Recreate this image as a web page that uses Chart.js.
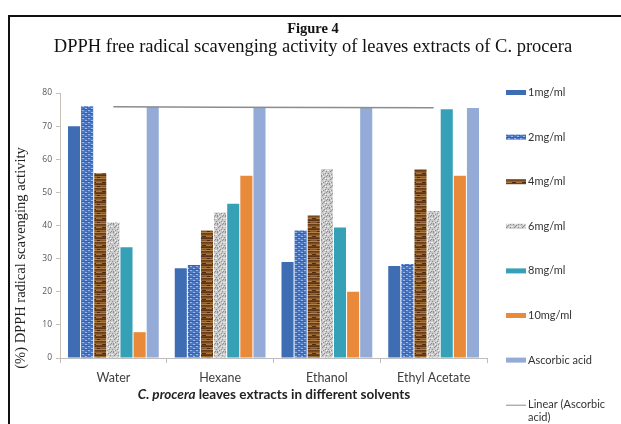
<!DOCTYPE html>
<html>
<head>
<meta charset="utf-8">
<script src="https://cdn.jsdelivr.net/npm/chart.js@4/dist/chart.umd.min.js"></script>
<style>
  html, body { margin: 0; padding: 0; background: #fff; }
  #wrap { position: relative; width: 621px; height: 424px; overflow: hidden; }
  #frame { position: absolute; left: 8px; top: 15px; width: 700px; height: 500px;
           border-left: 2.5px solid #111; border-top: 2px solid #111; box-sizing: border-box; }
  canvas { position: absolute; left: 0; top: 0; }
</style>
</head>
<body>
<div id="wrap">
  <div id="frame"></div>
  <canvas id="c" width="621" height="424"></canvas>
</div>
<script>
// Solvents and extract concentrations
const solvents = ['Water', 'Hexane', 'Ethanol', 'Ethyl Acetate'];
const seriesLabels = ['1mg/ml', '2mg/ml', '4mg/ml', '6mg/ml', '8mg/ml', '10mg/ml', 'Ascorbic acid'];

// % DPPH radical scavenging activity per solvent
const conc1  = [70.0, 27.1, 29.0, 27.8];
const conc2  = [76.0, 28.1, 38.5, 28.4];
const conc4  = [55.8, 38.5, 43.0, 57.0];
const conc6  = [40.9, 43.9, 57.0, 44.4];
const conc8  = [33.4, 46.6, 39.4, 75.1];
const conc10 = [7.8, 55.0, 20.0, 55.0];
const ascorbic = [75.8, 75.8, 75.6, 75.5];

const yTicks = [0, 10, 20, 30, 40, 50, 60, 70, 80];

const figureTitle = 'Figure 4';
const figureSubtitle = 'DPPH free radical scavenging activity of leaves extracts of C. procera';
const yTitle = '(%) DPPH radical scavenging activity';
const xTitle = ['C. procera', ' leaves extracts in different solvents'];

// Least-squares trend line through the ascorbic acid values
function linearFit(vals) {
  const n = vals.length;
  let sx = 0, sy = 0, sxy = 0, sxx = 0;
  vals.forEach((v, i) => { sx += i; sy += v; sxy += i * v; sxx += i * i; });
  const b = (n * sxy - sx * sy) / (n * sxx - sx * sx);
  const a = (sy - b * sx) / n;
  return vals.map((_, i) => a + b * i);
}

// Texture fills
function makePattern(w, h, draw) {
  const c = document.createElement('canvas');
  c.width = w; c.height = h;
  const g = c.getContext('2d');
  draw(g);
  return g.createPattern(c, 'repeat');
}
const bluePattern = makePattern(6, 4, g => {
  g.fillStyle = '#4a78c4'; g.fillRect(0, 0, 6, 4);
  g.fillStyle = '#9fb9e6';
  g.fillRect(1, 0, 2, 1); g.fillRect(4, 2, 2, 1);
  g.fillStyle = '#3462ad';
  g.fillRect(0, 1, 6, 1); g.fillRect(3, 3, 1, 1);
});
const woodPattern = makePattern(10, 9, g => {
  const bands = ['#7a4b22', '#93642f', '#a8773f', '#6e421b', '#5c3414', '#9b6a35', '#84552a', '#b08048', '#683d18'];
  bands.forEach((col, i) => { g.fillStyle = col; g.fillRect(0, i, 10, 1); });
  g.fillStyle = '#4f2c10'; g.fillRect(2, 2, 4, 1); g.fillRect(7, 6, 3, 1);
});
const granitePattern = makePattern(8, 8, g => {
  g.fillStyle = '#c9c9c9'; g.fillRect(0, 0, 8, 8);
  g.fillStyle = '#8e8e8e';
  [[1,0],[4,1],[6,3],[2,3],[0,5],[5,5],[3,6],[7,7],[1,7],[6,0],[3,2]].forEach(p => g.fillRect(p[0], p[1], 1, 1));
  g.fillStyle = '#eeeeee';
  [[3,0],[7,2],[0,2],[4,4],[2,6],[6,6],[5,2]].forEach(p => g.fillRect(p[0], p[1], 1, 1));
});

const fills = ['#3f6db3', bluePattern, woodPattern, granitePattern, '#35a0b6', '#e98a3a', '#94aad7'];
const seriesData = [conc1, conc2, conc4, conc6, conc8, conc10, ascorbic];

const datasets = seriesData.map((d, i) => ({
  type: 'bar',
  label: seriesLabels[i],
  data: d,
  backgroundColor: fills[i],
  borderWidth: 0,
  categoryPercentage: 0.86,
  barPercentage: 0.92,
  order: 2
}));
datasets.push({
  type: 'line',
  label: 'Linear (Ascorbic acid)',
  data: linearFit(ascorbic),
  borderColor: '#8c8c8c',
  borderWidth: 1.5,
  pointRadius: 0,
  fill: false,
  order: 1
});

const serif = '"Liberation Serif", "Times New Roman", serif';
const sans = 'Lato, "Open Sans", sans-serif';

// Titles, rotated y-axis caption and the right-hand legend
const decorations = {
  id: 'decorations',
  afterDraw(chart) {
    const ctx = chart.ctx;
    const area = chart.chartArea;
    ctx.save();
    ctx.fillStyle = '#111';
    ctx.textAlign = 'center';
    ctx.textBaseline = 'alphabetic';
    ctx.font = 'bold 14.5px ' + serif;
    ctx.fillText(figureTitle, 313, 33);
    ctx.font = '18.5px ' + serif;
    ctx.fillText(figureSubtitle, 313, 52);

    ctx.save();
    ctx.translate(21, 258);
    ctx.rotate(-Math.PI / 2);
    ctx.textBaseline = 'middle';
    ctx.fillStyle = '#222';
    ctx.font = '14.5px ' + serif;
    ctx.fillText(yTitle, 0, 0);
    ctx.restore();

    // x-axis caption with the italic genus name
    ctx.textAlign = 'left';
    ctx.textBaseline = 'middle';
    ctx.fillStyle = '#222';
    const f1 = 'italic bold 13.5px ' + sans, f2 = 'bold 13.5px ' + sans;
    ctx.font = f1; const w1 = ctx.measureText(xTitle[0]).width;
    ctx.font = f2; const w2 = ctx.measureText(xTitle[1]).width;
    const cx = (area.left + area.right) / 2 + 0.5;
    let x = cx - (w1 + w2) / 2;
    ctx.font = f1; ctx.fillText(xTitle[0], x, 395);
    ctx.font = f2; ctx.fillText(xTitle[1], x + w1, 395);

    // legend
    ctx.font = '11px ' + sans;
    const x0 = 506, sw = 20, y0 = 92.5, step = 44.6;
    chart.data.datasets.forEach((ds, i) => {
      const y = y0 + i * step;
      if (ds.type === 'line') {
        ctx.strokeStyle = ds.borderColor;
        ctx.lineWidth = 1;
        ctx.beginPath(); ctx.moveTo(x0, y + 0.5); ctx.lineTo(x0 + sw, y + 0.5); ctx.stroke();
        ctx.fillStyle = '#333';
        ctx.fillText('Linear (Ascorbic', x0 + sw + 2, y);
        ctx.fillText('acid)', x0 + sw + 2, y + 13);
      } else {
        ctx.fillStyle = ds.backgroundColor;
        ctx.fillRect(x0, y - 2.5, sw, 5);
        ctx.fillStyle = '#333';
        ctx.fillText(ds.label, x0 + sw + 2, y);
      }
    });
    ctx.restore();
  }
};

new Chart(document.getElementById('c'), {
  data: { labels: solvents, datasets },
  options: {
    responsive: false,
    animation: false,
    layout: { padding: { left: 10, right: 134, top: 93, bottom: 23 } },
    plugins: {
      legend: { display: false },
      tooltip: { enabled: false }
    },
    scales: {
      x: {
        offset: true,
        afterFit(scale) { scale.height = 43; },
        grid: { display: true, offset: true, drawOnChartArea: false, drawTicks: true, tickLength: 5, color: '#bdbdbd' },
        border: { color: '#bdbdbd', width: 1 },
        ticks: { color: '#404040', font: { family: sans, size: 12.5 }, padding: 7 }
      },
      y: {
        min: 0, max: 80,
        afterFit(scale) { scale.width = 50; },
        afterBuildTicks(scale) { scale.ticks = yTicks.map(v => ({ value: v })); },
        grid: { display: true, drawOnChartArea: false, drawTicks: true, tickLength: 4, color: '#c9bfb5' },
        border: { color: '#c9bfb5', width: 1 },
        ticks: { color: '#555', font: { family: '"Open Sans", sans-serif', size: 8.5 }, padding: 4 }
      }
    }
  },
  plugins: [decorations]
});
</script>
</body>
</html>
